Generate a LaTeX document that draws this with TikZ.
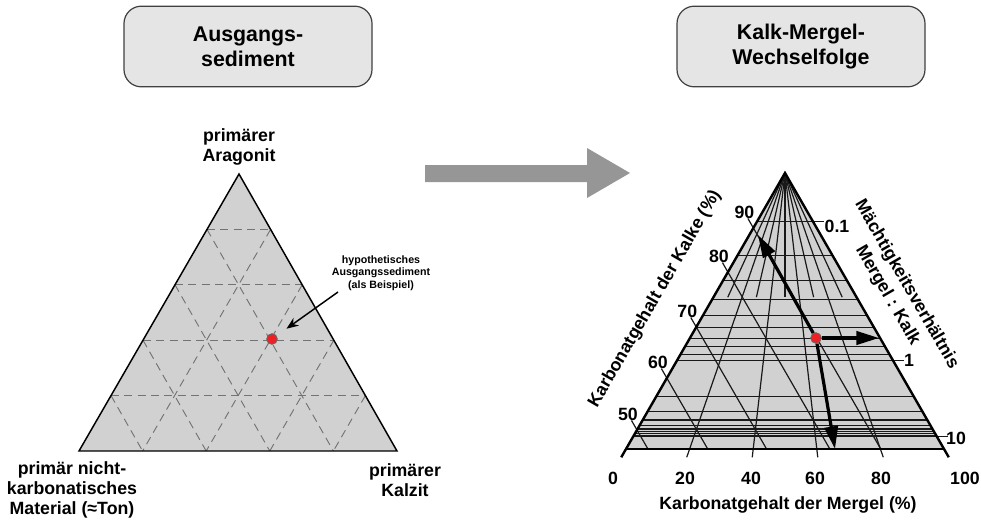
\documentclass[tikz,border=0pt]{standalone}
\usepackage{fontspec}
\setmainfont{Liberation Sans}
\usetikzlibrary{calc,arrows.meta}
\definecolor{boxgray}{RGB}{229,229,229}
\definecolor{trigray}{RGB}{209,209,209}
\definecolor{gridgray}{RGB}{115,115,115}
\definecolor{arrowgray}{RGB}{150,150,150}
\definecolor{dotred}{RGB}{237,32,36}

\begin{document}
\begin{tikzpicture}[x=0.75pt, y=-0.75pt, >=Stealth, font=\bfseries]
    \tikzstyle{titlebox}=[draw=black!75, fill=boxgray, rounded corners=13pt, line width=0.9pt, minimum width=186pt, minimum height=60.5pt, align=center, font=\fontsize{16}{18.75}\selectfont\bfseries]
    \tikzstyle{lbl}=[align=center, inner sep=0pt, font=\fontsize{13.3}{15.2}\selectfont\bfseries]
    \tikzstyle{num}=[inner sep=0pt, font=\fontsize{13.3}{15}\selectfont\bfseries]
    \tikzstyle{gridline}=[gridgray, line width=0.7pt, dash pattern=on 6pt off 4pt]
    \tikzstyle{chartline}=[black!90, line width=0.9pt]
    \tikzstyle{reddot}=[circle, draw=black!60, fill=dotred, line width=0.6pt, minimum size=8pt, inner sep=0pt]
    \tikzstyle{bigarrow}=[line width=2.4pt, -{Triangle[length=17pt,width=10pt]}]

    \useasboundingbox (0,0) rectangle (981,521);

    \node[titlebox] (ausg) at (248,46.5) {Ausgangs-\\sediment};
    \node[titlebox] (kmw) at (801,46.5) {Kalk-Mergel-\\Wechselfolge};

    \fill[arrowgray] (425,165) -- (587,165) -- (587,148) -- (630,173) -- (587,198) -- (587,182) -- (425,182) -- cycle;

    % Ausgangssediment
    \coordinate (la) at (239,174);
    \coordinate (ll) at (79,451);
    \coordinate (lr) at (397,451);
    \fill[trigray] (la) -- (ll) -- (lr) -- cycle;
    \foreach \k in {1,...,4} {
      \draw[gridline] ($(la)!\k/5!(ll)$) -- ($(la)!\k/5!(lr)$);
      \draw[gridline] ($(la)!\k/5!(lr)$) -- ($(ll)!\k/5!(lr)$);
      \draw[gridline] ($(la)!\k/5!(ll)$) -- ($(lr)!\k/5!(ll)$);
    }
    \draw[line width=1.1pt, line join=miter] (la) -- (ll) -- (lr) -- cycle;

    \node[lbl] (arag) at (239,147) {primärer\\Aragonit};
    \node[lbl] (ton) at (72,490) {primär nicht-\\karbonatisches\\Material (≈Ton)};
    \node[lbl] (kalzit) at (405,480) {primärer\\Kalzit};
    \node[reddot] (dotl) at (272,339) {};
    \node[align=center, inner sep=0pt, font=\fontsize{8}{9.4}\selectfont\bfseries] (hyp) at (381,273) {hypothetisches\\Ausgangssediment\\(als Beispiel)};
    \coordinate (hyptail) at (338,292);
    \draw[-{Stealth[length=9pt,width=7pt]}, line width=1.1pt, shorten >=9pt] (hyptail) -- (dotl);

    % Kalk-Mergel-Wechselfolge
    \begin{scope}[shift={(785,173)}]
      \coordinate (ra) at (0,0);
      \coordinate (rl) at (-159,276);
      \coordinate (rr) at (159,276);
      \fill[trigray] (ra) -- (rl) -- (rr) -- cycle;
      \foreach \rat in {0.1,0.2,0.3,0.4,0.5,0.6,0.7,0.8,0.9,1,2,3,4,5,6,7,8,9,10} {
        \pgfmathsetmacro\lev{\rat/(\rat+0.47)}
        \draw[chartline] ({-159*\lev},{276*\lev}) -- ({159*\lev},{276*\lev});
      }
      \foreach \rat in {0.1,1,10} {
        \pgfmathsetmacro\lev{\rat/(\rat+0.47)}
        \draw[chartline] ({159*\lev},{276*\lev}) -- ({159*\lev+11},{276*\lev});
      }
      \foreach \cm in {0.2,0.4,0.6,0.8}
        \draw[chartline] (ra) -- ({159*(2*\cm-1)*1.03},{276*1.03});
      \foreach \cm in {0.1,0.3,0.5,0.7,0.9}
        \draw[chartline] (ra) -- ({159*(2*\cm-1)*0.45},{276*0.45});
      \foreach \ck/\tz in {90/0.199,80/0.359,70/0.558,60/0.743,50/0.931} {
        \draw[chartline] ({-159*\tz-5.5},{276*\tz-9.5}) -- ({159*(1-2*\tz)},276);
        \node[num] (ck\ck) at ({-159*\tz-9},{276*\tz-16}) {\ck};
      }
      \draw[line width=1.8pt, line join=miter] ({-159*1.03},{276*1.03}) -- (ra) -- ({159*1.03},{276*1.03});
      \draw[line width=1.8pt] (rl) -- (rr);
    \end{scope}

    \node[reddot] (dotr) at (816,338) {};
    \coordinate (kalktip) at (758,235);
    \coordinate (ratiotip) at (879,338);
    \coordinate (mergeltip) at (835,449);
    \draw[bigarrow] (dotr) -- (kalktip);
    \draw[bigarrow] (dotr) -- (ratiotip);
    \draw[bigarrow] (dotr) -- (mergeltip);

    \foreach \v/\x in {0/613,20/685,40/751,60/815,80/881,100/965}
      \node[num] (m\v) at (\x,478) {\v};
    \node[num] (r01) at (837,226) {0.1};
    \node[num] (r1) at (909,360) {1};
    \node[num] (r10) at (956,438) {10};
    \node[lbl] (mergelax) at (788,505) {Karbonatgehalt der Mergel (\%)};
    \node[lbl, rotate=60] (kalkax) at (655,299) {Karbonatgehalt der Kalke (\%)};
    \node[lbl, rotate=-60, font=\fontsize{13.3}{16.5}\selectfont\bfseries] (ratioax) at (897,290) {Mächtigkeitsverhältnis\\Mergel : Kalk};
\end{tikzpicture}
\end{document}
